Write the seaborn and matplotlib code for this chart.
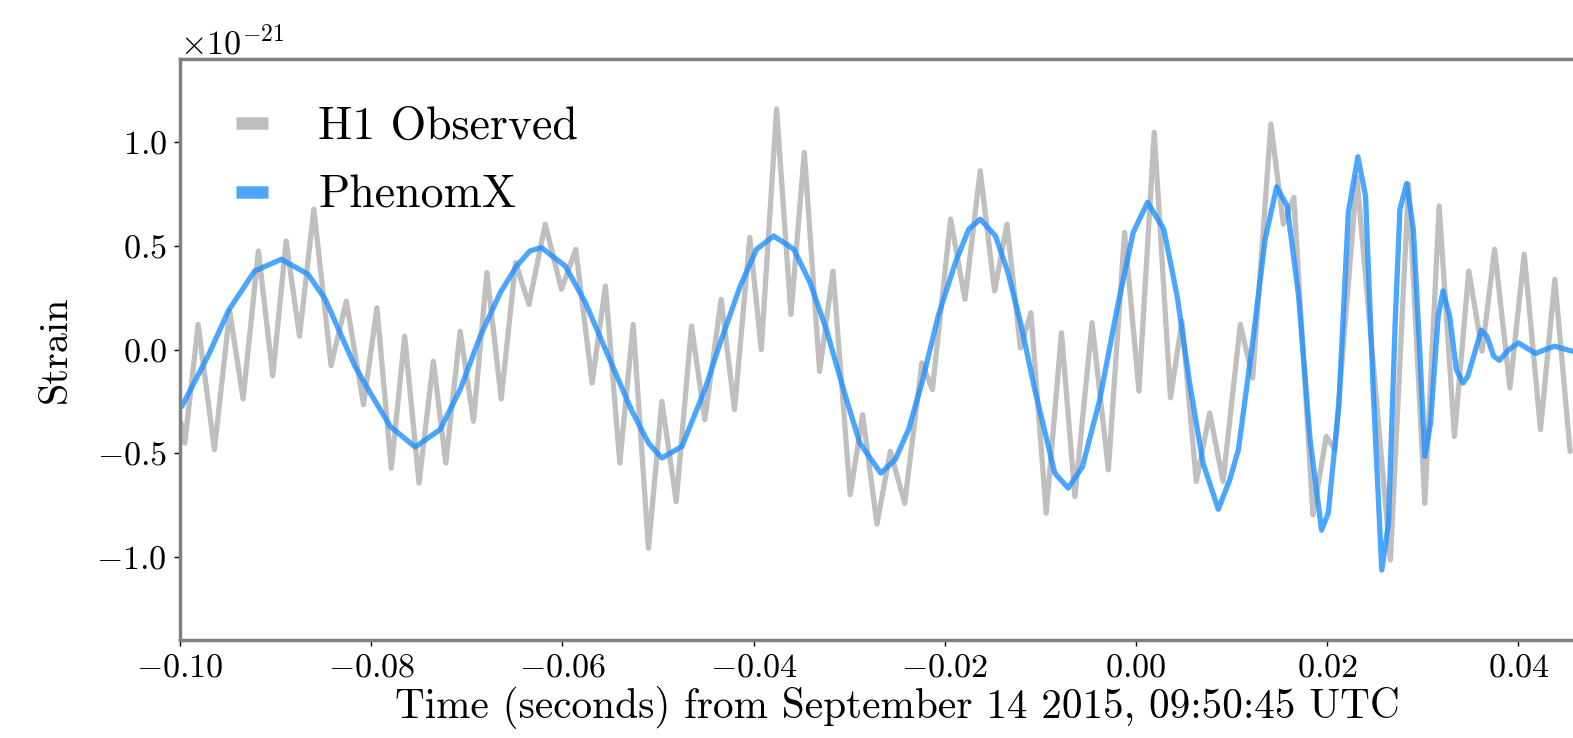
import numpy as np
import pandas as pd
import matplotlib
matplotlib.use("Agg")
import matplotlib.pyplot as plt
import seaborn as sns
from matplotlib.lines import Line2D

# ---- data (strain in units of 1e-21) ----
T_H1 = [-0.0999, -0.0995, -0.0981, -0.0964, -0.0948, -0.0934, -0.0918, -0.0903, -0.0889, -0.0875,
        -0.0860, -0.0842, -0.0826, -0.0808, -0.0794, -0.0779, -0.0765, -0.0750, -0.0735, -0.0722,
        -0.0707, -0.0693, -0.0679, -0.0664, -0.0649, -0.0635, -0.0618, -0.0601, -0.0586, -0.0569,
        -0.0555, -0.0540, -0.0526, -0.0510, -0.0496, -0.0481, -0.0465, -0.0451, -0.0434, -0.0420,
        -0.0404, -0.0392, -0.0376, -0.0361, -0.0347, -0.0331, -0.0317, -0.0299, -0.0286, -0.0271,
        -0.0257, -0.0242, -0.0224, -0.0213, -0.0194, -0.0179, -0.0163, -0.0148, -0.0135, -0.0121,
        -0.0110, -0.0094, -0.0078, -0.0064, -0.0046, -0.0029, -0.0012, 0.0003, 0.0019, 0.0036,
        0.0048, 0.0063, 0.0077, 0.0091, 0.0109, 0.0122, 0.0141, 0.0154, 0.0165, 0.0185,
        0.0199, 0.0208, 0.0231, 0.0266, 0.0285, 0.0302, 0.0317, 0.0333, 0.0348, 0.0362,
        0.0375, 0.0391, 0.0406, 0.0423, 0.0438, 0.0454]
H1 = [-0.353, -0.451, 0.121, -0.483, 0.185, -0.238, 0.475, -0.126, 0.523, 0.064,
      0.676, -0.077, 0.233, -0.266, 0.201, -0.572, 0.064, -0.644, -0.057, -0.547,
      0.088, -0.346, 0.371, -0.238, 0.419, 0.217, 0.604, 0.290, 0.483, -0.161,
      0.306, -0.547, 0.121, -0.958, -0.250, -0.733, 0.113, -0.338, 0.242, -0.290,
      0.540, 0.000, 1.159, 0.169, 0.950, -0.105, 0.378, -0.700, -0.314, -0.841,
      -0.491, -0.741, -0.064, -0.193, 0.628, 0.242, 0.861, 0.282, 0.604, 0.008,
      0.177, -0.789, 0.081, -0.709, 0.129, -0.580, 0.564, -0.201, 1.047, -0.233,
      0.137, -0.636, -0.306, -0.636, 0.121, -0.137, 1.087, 0.604, 0.733, -0.797,
      -0.419, -0.483, 0.829, -1.014, 0.797, -0.741, 0.692, -0.419, 0.378, -0.008,
      0.483, -0.185, 0.459, -0.386, 0.338, -0.491]

T_PX = [-0.0998, -0.0970, -0.0949, -0.0922, -0.0894, -0.0866, -0.0848, -0.0831, -0.0817, -0.0801,
        -0.0780, -0.0754, -0.0728, -0.0707, -0.0686, -0.0665, -0.0648, -0.0634, -0.0622, -0.0597,
        -0.0576, -0.0552, -0.0528, -0.0510, -0.0496, -0.0475, -0.0451, -0.0435, -0.0414, -0.0397,
        -0.0379, -0.0358, -0.0341, -0.0324, -0.0306, -0.0289, -0.0267, -0.0252, -0.0238, -0.0224,
        -0.0207, -0.0189, -0.0175, -0.0163, -0.0147, -0.0134, -0.0120, -0.0106, -0.0085, -0.0071,
        -0.0056, -0.0038, -0.0020, -0.0003, 0.0012, 0.0029, 0.0043, 0.0056, 0.0070, 0.0086,
        0.0098, 0.0107, 0.0121, 0.0135, 0.0147, 0.0158, 0.0170, 0.0182, 0.0194, 0.0201,
        0.0212, 0.0222, 0.0232, 0.0240, 0.0248, 0.0257, 0.0264, 0.0271, 0.0276, 0.0283,
        0.0290, 0.0297, 0.0302, 0.0308, 0.0316, 0.0321, 0.0328, 0.0335, 0.0342, 0.0347,
        0.0361, 0.0367, 0.0374, 0.0380, 0.0390, 0.0400, 0.0411, 0.0418, 0.0428, 0.0438,
        0.0456]
PX = [-0.274, -0.024, 0.190, 0.378, 0.435, 0.362, 0.242, 0.064, -0.081, -0.209,
      -0.371, -0.470, -0.386, -0.193, 0.064, 0.274, 0.402, 0.475, 0.491, 0.402,
      0.226, -0.032, -0.290, -0.451, -0.523, -0.467, -0.193, 0.032, 0.306, 0.483,
      0.547, 0.483, 0.322, 0.097, -0.193, -0.451, -0.596, -0.531, -0.386, -0.161,
      0.161, 0.419, 0.580, 0.628, 0.547, 0.371, 0.113, -0.193, -0.596, -0.668,
      -0.564, -0.242, 0.193, 0.564, 0.709, 0.580, 0.257, -0.161, -0.547, -0.770,
      -0.628, -0.483, 0.000, 0.531, 0.784, 0.692, 0.257, -0.435, -0.870, -0.789,
      -0.274, 0.660, 0.929, 0.741, -0.193, -1.063, -0.837, 0.129, 0.676, 0.800,
      0.580, -0.032, -0.515, -0.354, 0.161, 0.282, 0.161, -0.097, -0.161, -0.129,
      0.093, 0.064, -0.032, -0.052, 0.000, 0.032, 0.000, -0.019, 0.000, 0.016,
      -0.008]

SCALE = 1e-21
LABELS = ["H1 Observed", "PhenomX"]
XTICKS = [-0.10, -0.08, -0.06, -0.04, -0.02, 0.00, 0.02, 0.04]
YTICKS = [-1.0, -0.5, 0.0, 0.5, 1.0]

sns.set_style("white")
plt.rcParams["font.family"] = ["cmr10"]
plt.rcParams["mathtext.fontset"] = "cm"
plt.rcParams["axes.formatter.use_mathtext"] = True
plt.rcParams["axes.unicode_minus"] = True
plt.rcParams["text.color"] = "black"
plt.rcParams["axes.labelcolor"] = "black"
plt.rcParams["xtick.color"] = "black"
plt.rcParams["ytick.color"] = "black"

df_h1 = pd.DataFrame({"t": T_H1, "h": np.array(H1) * SCALE})
df_px = pd.DataFrame({"t": T_PX, "h": np.array(PX) * SCALE})

fig = plt.figure(figsize=(15.73, 7.38), dpi=100)
ax = fig.add_axes([0.11443, 0.13279, 0.91170, 0.78726])

sns.lineplot(data=df_h1, x="t", y="h", ax=ax, color="gray", alpha=0.5, lw=3.8,
             estimator=None, sort=False)
sns.lineplot(data=df_px, x="t", y="h", ax=ax, color="dodgerblue", alpha=0.8, lw=3.8,
             estimator=None, sort=False)

ax.set_xlim(-0.10, 0.05)
ax.set_ylim(-1.4 * SCALE, 1.4 * SCALE)
ax.set_xticks(XTICKS)
ax.set_yticks([v * SCALE for v in YTICKS])
ax.tick_params(axis="both", which="major", labelsize=24.5, direction="out",
               length=4.5, width=1.0, colors="black", bottom=True, left=True, pad=5)
ax.yaxis.get_offset_text().set_fontsize(24.5)
ax.yaxis.get_offset_text().set_color("black")

for s in ax.spines.values():
    s.set_color("gray")
    s.set_linewidth(2.5)

ax.set_xlabel("Time (seconds) from September 14 2015, 09:50:45 UTC", fontsize=29.7,
              labelpad=3, color="black")
ax.set_ylabel("Strain", fontsize=29, labelpad=16, color="black")

handles = [Line2D([], [], color="gray", alpha=0.5, lw=9, solid_capstyle="butt"),
           Line2D([], [], color="dodgerblue", alpha=0.8, lw=9, solid_capstyle="butt")]
leg = ax.legend(handles, LABELS, loc="upper left", frameon=False, fontsize=33,
                handlelength=0.7, handletextpad=1.1, labelspacing=0.6,
                bbox_to_anchor=(0.007, 0.998), borderaxespad=0.6)
for txt in leg.get_texts():
    txt.set_color("black")

fig.savefig("out.png", dpi=100)
